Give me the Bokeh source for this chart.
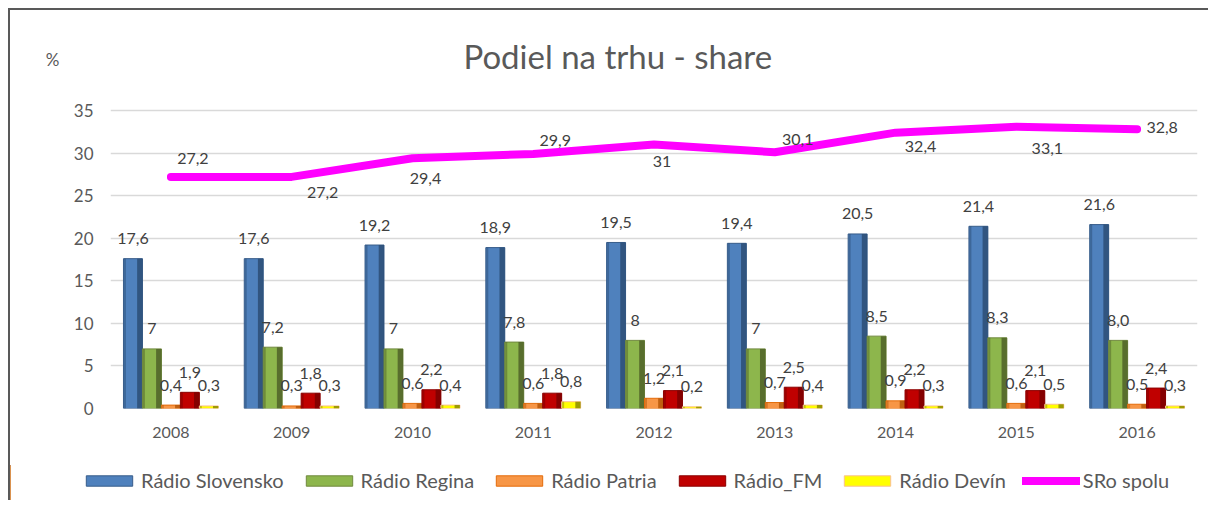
from bokeh.plotting import figure
from bokeh.layouts import column
from bokeh.models import (ColumnDataSource, Range1d, FactorRange, Legend, LegendItem, Label,
                          FixedTicker, LinearAxis)
from bokeh.transform import dodge
from bokeh.core.properties import value
from bokeh.embed import file_html
from bokeh.resources import INLINE

# ---- data ----
years = ["2008", "2009", "2010", "2011", "2012", "2013", "2014", "2015", "2016"]
slovensko = [17.6, 17.6, 19.2, 18.9, 19.5, 19.4, 20.5, 21.4, 21.6]
regina = [7, 7.2, 7, 7.8, 8, 7, 8.5, 8.3, 8.0]
patria = [0.4, 0.3, 0.6, 0.6, 1.2, 0.7, 0.9, 0.6, 0.5]
radio_fm = [1.9, 1.8, 2.2, 1.8, 2.1, 2.5, 2.2, 2.1, 2.4]
devin = [0.3, 0.3, 0.4, 0.8, 0.2, 0.4, 0.3, 0.5, 0.3]
spolu = [27.2, 27.2, 29.4, 29.9, 31, 30.1, 32.4, 33.1, 32.8]
y_ticks = [0, 5, 10, 15, 20, 25, 30, 35]
series_names = ["Rádio Slovensko", "Rádio Regina", "Rádio Patria", "Rádio_FM", "Rádio Devín"]
line_name = "SRo spolu"
title_text = "Podiel na trhu - share"
unit_text = "%"

# ---- styles / layout ----
FONT = "Lato"
TXT = "#595959"
LBL = "#404040"
PX_PER_UNIT = 298 / 35.0
FRAME_H = 388
bar_styles = [
    dict(fill="#4F81BD", dark="#2C4D75", line="#385D8A"),
    dict(fill="#8DB64C", dark="#4F6228", line="#71893F"),
    dict(fill="#F79646", dark="#B65708", line="#E46C0A"),
    dict(fill="#C00000", dark="#7A0000", line="#8B0000"),
    dict(fill="#FFFF00", dark="#8C8C00", line="#FAC090"),
]
MAGENTA = "#FF00FF"
BW = 0.157
offsets = [-2 * BW, -BW, 0.0, BW, 2 * BW]
# pixel offsets of the total-line labels (dx, dy), screen px, +dy = down
line_lbl_off = [(22, -18), (31, 16), (13, 20), (22, -13), (8, 17), (23, -13), (25, 14), (31, 22), (25, -2)]


def fmt(v):
    return str(v).replace(".", ",")


series_vals = [slovensko, regina, patria, radio_fm, devin]

p = figure(
    x_range=FactorRange(factors=years),
    y_range=Range1d(0, FRAME_H / PX_PER_UNIT),
    width=1198, height=455, frame_height=FRAME_H, frame_width=1087,
    min_border_left=100, min_border_right=11, min_border_top=10, min_border_bottom=57,
    output_backend="svg", toolbar_location=None, title=None,
)
p.frame_align = False
p.outline_line_color = None
p.background_fill_color = "white"
p.border_fill_color = "white"

p.xgrid.visible = False
p.ygrid.grid_line_color = "#D9D9D9"
p.ygrid.grid_line_width = 1.5
p.yaxis.ticker = FixedTicker(ticks=y_ticks)
p.ygrid.ticker = FixedTicker(ticks=y_ticks)

pct_axis = LinearAxis(ticker=FixedTicker(ticks=[41]), major_label_overrides={41: unit_text})
p.add_layout(pct_axis, "left")

for ax in (p.xaxis[0], p.yaxis[0], pct_axis):
    ax.axis_line_color = None
    ax.major_tick_line_color = None
    ax.minor_tick_line_color = None
    ax.major_tick_out = 0
    ax.major_tick_in = 0
    ax.minor_tick_out = 0
    ax.major_label_text_font = FONT
    ax.major_label_text_color = TXT
p.yaxis[0].major_label_text_font_size = "17px"
p.yaxis[0].major_label_standoff = 17
pct_axis.major_label_text_font_size = "17px"
pct_axis.major_label_standoff = 11
p.xaxis.major_label_text_font_size = "16px"
p.xaxis.major_label_standoff = 18

for vals, st, off in zip(series_vals, bar_styles, offsets):
    src = ColumnDataSource(dict(x=years, top=vals, lbl=[fmt(v) for v in vals]))
    p.vbar(x=dodge("x", off, range=p.x_range), top="top", width=BW, source=src,
           fill_color=st["fill"], line_color=st["line"], line_width=1)
    p.vbar(x=dodge("x", off + BW * 0.36, range=p.x_range), top="top", width=BW * 0.28, source=src,
           fill_color=st["dark"], line_color=None, fill_alpha=0.85)
    p.vbar(x=dodge("x", off - BW * 0.42, range=p.x_range), top="top", width=BW * 0.1, source=src,
           fill_color=st["dark"], line_color=None, fill_alpha=0.5)
    p.text(x=dodge("x", off, range=p.x_range), y="top", text="lbl", source=src,
           text_font=value(FONT), text_font_size="16px", text_color=LBL,
           text_align="center", text_baseline="middle", y_offset=-20)

lsrc = ColumnDataSource(dict(x=years, y=spolu, lbl=[fmt(v) for v in spolu],
                             dx=[o[0] for o in line_lbl_off], dy=[o[1] for o in line_lbl_off]))
p.line(x="x", y="y", source=lsrc, line_color=MAGENTA, line_width=8,
       line_cap="round", line_join="round")
p.text(x="x", y="y", text="lbl", source=lsrc, x_offset="dx", y_offset="dy",
       text_font=value(FONT), text_font_size="16px", text_color=LBL,
       text_align="center", text_baseline="middle")

p.add_layout(Label(x=4.2, y=(408 - 55) / PX_PER_UNIT, text=title_text, text_font=FONT,
                   text_font_size="33px", text_color=TXT, text_align="center",
                   text_baseline="middle"))

# ---- legend strip (separate small figure so it can sit left of the plot frame) ----
lg = figure(width=1198, height=35, min_border_left=0, min_border_right=0,
            min_border_top=0, min_border_bottom=0, x_axis_location=None, y_axis_location=None,
            x_range=Range1d(0, 1), y_range=Range1d(0, 1),
            output_backend="svg", toolbar_location=None, title=None)
lg.frame_align = False
lg.grid.visible = False
lg.outline_line_color = None
items = []
for name, st in zip(series_names, bar_styles):
    # proxy glyph placed outside the visible range; only its legend swatch is seen
    rr = lg.vbar(x=[-5], top=[1], width=0.1, fill_color=st["fill"], line_color=st["line"],
                 line_width=1)
    items.append(LegendItem(label=name, renderers=[rr]))
rl = lg.line(x=[-5, -4], y=[0.5, 0.5], line_color=MAGENTA, line_width=8, line_cap="round")
items.append(LegendItem(label=line_name, renderers=[rl]))
legend = Legend(items=items, orientation="horizontal", location=(70, 8),
                glyph_width=58, glyph_height=13, label_standoff=3, spacing=16, padding=4,
                margin=0,
                label_text_font=FONT, label_text_font_size="20px", label_text_color=TXT,
                border_line_color=None, background_fill_alpha=0)
lg.add_layout(legend, "center")

layout = column(p, lg, spacing=0)
layout.styles = {"margin-left": "8px", "margin-top": "8px",
                 "border-left": "2px solid #595959", "border-top": "2px solid #595959"}

open("out.html", "w").write(file_html(layout, INLINE))
